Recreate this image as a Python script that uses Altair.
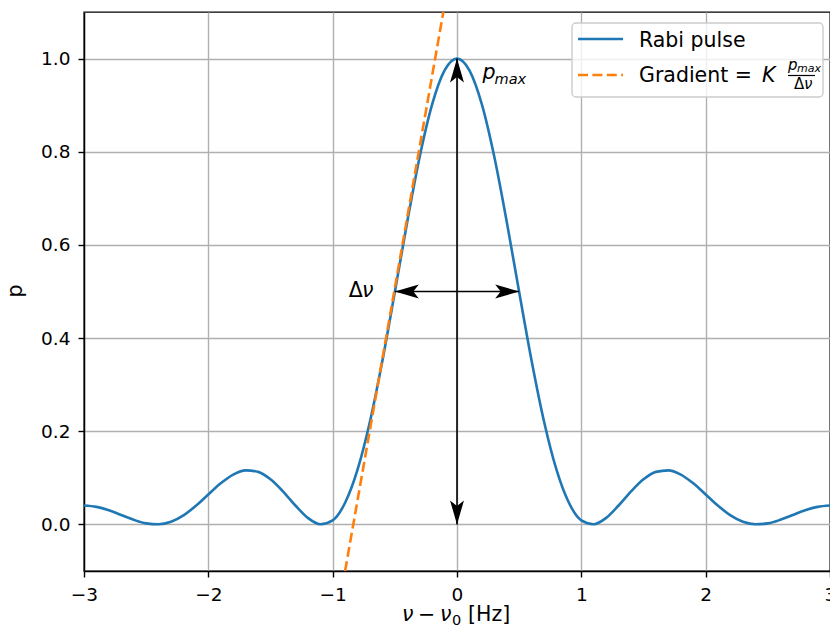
import altair as alt
import pandas as pd

# ---- data ----
nu = [-3.0, -2.9, -2.8, -2.7, -2.6, -2.5, -2.4, -2.3, -2.2, -2.1,
      -2.0, -1.9, -1.8, -1.7, -1.6, -1.5, -1.4, -1.3, -1.2, -1.1,
      -1.0, -0.9, -0.8, -0.7, -0.6, -0.5, -0.4, -0.3, -0.2, -0.1,
      0.0,
      0.1, 0.2, 0.3, 0.4, 0.5, 0.6, 0.7, 0.8, 0.9, 1.0,
      1.1, 1.2, 1.3, 1.4, 1.5, 1.6, 1.7, 1.8, 1.9, 2.0,
      2.1, 2.2, 2.3, 2.4, 2.5, 2.6, 2.7, 2.8, 2.9, 3.0]
p = [0.0406, 0.0377, 0.0304, 0.0202, 0.0098, 0.0022, 0.0002, 0.0057, 0.0194, 0.0400,
     0.0644, 0.0883, 0.1070, 0.1161, 0.1128, 0.0968, 0.0709, 0.0406, 0.0140, 0.0004,
     0.0088, 0.0465, 0.1174, 0.2208, 0.3513, 0.4988, 0.6498, 0.7891, 0.9015, 0.9746,
     1.0000,
     0.9746, 0.9015, 0.7891, 0.6498, 0.4988, 0.3513, 0.2208, 0.1174, 0.0465, 0.0088,
     0.0004, 0.0140, 0.0406, 0.0709, 0.0968, 0.1128, 0.1161, 0.1070, 0.0883, 0.0644,
     0.0400, 0.0194, 0.0057, 0.0002, 0.0022, 0.0098, 0.0202, 0.0304, 0.0377, 0.0406]

grad_nu = [-0.9, -0.11]
grad_p = [-0.1, 1.1]

vert_arrow_nu = [0.0]
vert_arrow_p = [0.0]
vert_arrow_p2 = [1.0]
horiz_arrow_nu = [-0.5]
horiz_arrow_nu2 = [0.5]
horiz_arrow_p = [0.5]

x_ticks = [-3, -2, -1, 0, 1, 2, 3]
y_ticks = [0.0, 0.2, 0.4, 0.6, 0.8, 1.0]

BLUE = "#1f77b4"
ORANGE = "#ff7f0e"
FONT = "DejaVu Sans"
FS_TICK = 18.5
FS = 20.5
W = 746

xs = alt.Scale(domain=[-3, 3], nice=False, zero=False)
ys = alt.Scale(domain=[-0.1, 1.1], nice=False, zero=False)
x_axis = alt.Axis(values=x_ticks, format="d", title=None, labelFlush=False,
                  labelOverlap=False, labelPadding=8)
y_axis = alt.Axis(values=y_ticks, format=".1f", title=None, labelPadding=8)
X = alt.X("nu:Q", scale=xs, axis=x_axis)
Y = alt.Y("p:Q", scale=ys, axis=y_axis)

curve = alt.Chart(pd.DataFrame({"nu": nu, "p": p})).mark_line(
    color=BLUE, strokeWidth=2.6, interpolate="monotone").encode(x=X, y=Y)

grad = alt.Chart(pd.DataFrame({"nu": grad_nu, "p": grad_p})).mark_line(
    color=ORANGE, strokeWidth=2.6, strokeDash=[10, 4.4], clip=True).encode(x=X, y=Y)

vrule = alt.Chart(pd.DataFrame({"nu": vert_arrow_nu, "p": vert_arrow_p, "p2": vert_arrow_p2})).mark_rule(
    color="black", strokeWidth=1.6).encode(x=X, y=Y, y2="p2:Q")
hrule = alt.Chart(pd.DataFrame({"nu": horiz_arrow_nu, "nu2": horiz_arrow_nu2, "p": horiz_arrow_p})).mark_rule(
    color="black", strokeWidth=1.6).encode(x=X, x2="nu2:Q", y=Y)

ARROW_SIZE = 2304
shapes = {
    "up": "M0,0 L0.29,1 L0,0.77 L-0.29,1 Z",
    "down": "M0,0 L0.29,-1 L0,-0.77 L-0.29,-1 Z",
    "left": "M0,0 L1,-0.29 L0.77,0 L1,0.29 Z",
    "right": "M0,0 L-1,-0.29 L-0.77,0 L-1,0.29 Z",
}


def head(xv, yv, shape):
    return alt.Chart(pd.DataFrame({"nu": [xv], "p": [yv]})).mark_point(
        shape=shapes[shape], size=ARROW_SIZE, filled=True, fill="black",
        strokeWidth=0, opacity=1).encode(x=X, y=Y)


heads = [
    head(vert_arrow_nu[0], vert_arrow_p2[0], "up"),
    head(vert_arrow_nu[0], vert_arrow_p[0], "down"),
    head(horiz_arrow_nu[0], horiz_arrow_p[0], "left"),
    head(horiz_arrow_nu2[0], horiz_arrow_p[0], "right"),
]


def dtext(t, xv, yv, size=FS, style="normal"):
    return alt.Chart(pd.DataFrame({"nu": [xv], "p": [yv], "t": [t]})).mark_text(
        font=FONT, fontSize=size, fontStyle=style, align="left", baseline="alphabetic",
        color="black").encode(x=X, y=Y, text="t:N")


def ptext(t, px, py, size=FS, style="normal", align="left", angle=0):
    return alt.Chart(alt.Data(values=[{}])).mark_text(
        text=t, font=FONT, fontSize=size, fontStyle=style, align=align,
        baseline="alphabetic", color="black", angle=angle).encode(
        x=alt.value(px), y=alt.value(py))


annotations = [
    dtext("Δ", -0.87, 0.488),
    dtext("ν", -0.765, 0.488, style="italic"),
    dtext("p", 0.205, 0.956, style="italic"),
    dtext("max", 0.302, 0.946, size=14.5, style="italic"),
]

# legend (manual, to allow the math fraction)
legend_box = alt.Chart(alt.Data(values=[{}])).mark_rect(
    fill="white", fillOpacity=0.8, stroke="#cccccc", strokeWidth=1.4, cornerRadius=4).encode(
    x=alt.value(488), x2=alt.value(739), y=alt.value(11), y2=alt.value(85))
leg_blue = alt.Chart(alt.Data(values=[{}])).mark_rule(color=BLUE, strokeWidth=2.6).encode(
    x=alt.value(494), x2=alt.value(539), y=alt.value(27))
leg_orange = alt.Chart(alt.Data(values=[{}])).mark_rule(
    color=ORANGE, strokeWidth=2.6, strokeDash=[10, 4.4]).encode(
    x=alt.value(494), x2=alt.value(539), y=alt.value(63))
leg_frac = alt.Chart(alt.Data(values=[{}])).mark_rule(color="black", strokeWidth=1.2).encode(
    x=alt.value(704), x2=alt.value(731), y=alt.value(63.5))
legend = [
    legend_box, leg_blue, leg_orange, leg_frac,
    ptext("Rabi pulse", 555, 35),
    ptext("Gradient =", 555, 70),
    ptext("K", 678, 70, style="italic"),
    ptext("p", 704, 58, size=15, style="italic"),
    ptext("max", 713, 60, size=11, style="italic"),
    ptext("Δ", 710, 77, size=15),
    ptext("ν", 720, 77, size=15, style="italic"),
]

# axis titles (manual, for the mixed math styling)
TB = 609
XC = W / 2 - 375  # keep the title centred under the plot
titles = [
    ptext("p", -62, 279, angle=270, align="center"),
    ptext("ν", 320 + XC, TB, style="italic"),
    ptext("−", 336 + XC, TB),
    ptext("ν", 358 + XC, TB, style="italic"),
    ptext("0", 370 + XC, TB + 4, size=14.5),
    ptext("[Hz]", 386 + XC, TB),
]

chart = alt.layer(curve, grad, vrule, hrule, *heads, *annotations, *legend, *titles).properties(
    width=W, height=559,
    padding={"left": 76, "top": 4, "right": 0, "bottom": 56},
    autosize=alt.AutoSizeParams(type="none"),
).configure_view(stroke="black", strokeWidth=1.4).configure_axis(
    grid=True, gridColor="#b0b0b0", gridWidth=1.4,
    domainColor="black", domainWidth=1.4,
    tickColor="black", tickWidth=1.4, tickSize=6,
    labelFont=FONT, labelFontSize=FS_TICK, labelColor="black",
)

chart.save("out.html", embed_options={"renderer": "svg", "actions": False})
